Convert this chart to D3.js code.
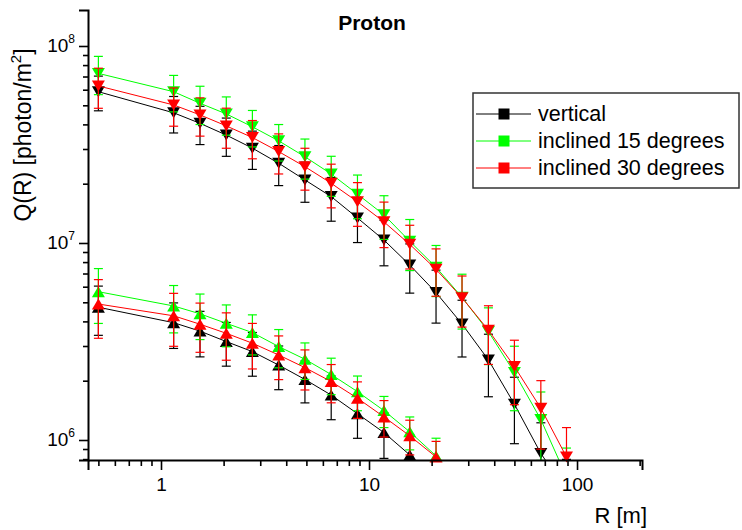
<!DOCTYPE html>
<html>
<head>
<meta charset="utf-8">
<script src="https://cdnjs.cloudflare.com/ajax/libs/d3/7.8.5/d3.min.js"></script>
<style>
  html, body { margin: 0; padding: 0; background: #fff; }
  svg { display: block; font-family: "Liberation Sans", Arial, sans-serif; }
</style>
</head>
<body>
<svg id="chart" width="742" height="530"></svg>
<script>
// ---------------- DATA ----------------
const R = [0.5, 1.15, 1.54, 2.06, 2.75, 3.68, 4.92, 6.58, 8.8, 11.8, 15.7, 21, 28, 37.5, 50, 67, 89];

// upper group (down triangles)
const verticalUpper = [5.86e7, 4.58e7, 4.05e7, 3.53e7, 3.03e7, 2.54e7, 2.09e7, 1.72e7, 1.34e7, 1.035e7, 7.73e6, 5.6e6, 3.88e6, 2.55e6, 1.52e6, 8.55e5, 5.5e5];
const incl15Upper   = [7.26e7, 5.86e7, 5.12e7, 4.52e7, 3.89e7, 3.30e7, 2.74e7, 2.24e7, 1.77e7, 1.39e7, 1.02e7, 7.53e6, 5.3e6, 3.55e6, 2.2e6, 1.27e6, 6.5e5];
const incl30Upper   = [6.27e7, 5.02e7, 4.47e7, 3.93e7, 3.43e7, 2.91e7, 2.44e7, 2.01e7, 1.62e7, 1.28e7, 9.84e6, 7.35e6, 5.27e6, 3.61e6, 2.36e6, 1.45e6, 8.2e5];
// relative errors (upper group)
const verticalUpperErr = [0.20, 0.21, 0.22, 0.22, 0.22, 0.23, 0.23, 0.25, 0.25, 0.26, 0.28, 0.30, 0.32, 0.35, 0.37, 0.43, 0.45];
const incl15UpperErr   = [0.22, 0.21, 0.22, 0.22, 0.21, 0.21, 0.23, 0.23, 0.25, 0.25, 0.29, 0.29, 0.31, 0.32, 0.36, 0.38, 0.40];
const incl30UpperErr   = [0.23, 0.22, 0.22, 0.23, 0.22, 0.23, 0.24, 0.25, 0.25, 0.26, 0.25, 0.27, 0.29, 0.33, 0.36, 0.38, 0.41];

// lower group (up triangles)
const verticalLower = [4.72e6, 3.94e6, 3.57e6, 3.16e6, 2.81e6, 2.4e6, 2.03e6, 1.69e6, 1.36e6, 1.09e6, 8.4e5];
const incl15Lower   = [5.66e6, 4.79e6, 4.37e6, 3.91e6, 3.51e6, 2.98e6, 2.57e6, 2.15e6, 1.76e6, 1.41e6, 1.10e6, 8.3e5];
const incl30Lower   = [4.9e6, 4.27e6, 3.87e6, 3.48e6, 3.1e6, 2.7e6, 2.33e6, 1.98e6, 1.63e6, 1.31e6, 1.05e6, 8.2e5];
const verticalLowerErr = [0.28, 0.26, 0.26, 0.25, 0.25, 0.25, 0.24, 0.25, 0.25, 0.26, 0.27];
const incl15LowerErr   = [0.31, 0.27, 0.26, 0.24, 0.23, 0.22, 0.21, 0.21, 0.20, 0.18, 0.19, 0.23];
const incl30LowerErr   = [0.33, 0.30, 0.28, 0.27, 0.26, 0.25, 0.23, 0.22, 0.21, 0.21, 0.20, 0.20];

const seriesNames = ["vertical", "inclined 15 degrees", "inclined 30 degrees"];
const seriesColors = ["#000000", "#00ff00", "#ff0000"];

const xMajorTicks = [1, 10, 100];
const xMinorTicks = [0.5, 0.6, 0.7, 0.8, 0.9, 2, 3, 4, 5, 6, 7, 8, 9, 20, 30, 40, 50, 60, 70, 80, 90, 200];
const yMajorTicks = [1e6, 1e7, 1e8];
const yMinorTicks = [8e5, 9e5, 2e6, 3e6, 4e6, 5e6, 6e6, 7e6, 8e6, 9e6, 2e7, 3e7, 4e7, 5e7, 6e7, 7e7, 8e7, 9e7];

const titleText = "Proton";
const xLabel = "R [m]";

// ---------------- LAYOUT ----------------
const svg = d3.select("#chart");
const pL = 88, pR = 642, pT = 10, pB = 460;

const x = d3.scaleLog().domain([0.4457, 205.3]).range([pL, pR]);
const y = d3.scaleLog().domain([7.915e5, 1.523e8]).range([pB, pT]);

svg.append("defs").append("clipPath").attr("id", "plotclip")
  .append("rect").attr("x", pL).attr("y", pT).attr("width", pR - pL).attr("height", pB - pT);

// ---------------- SERIES ----------------
const groups = [
  { vals: [verticalUpper, incl15Upper, incl30Upper], errs: [verticalUpperErr, incl15UpperErr, incl30UpperErr], dir: "down" },
  { vals: [verticalLower, incl15Lower, incl30Lower], errs: [verticalLowerErr, incl15LowerErr, incl30LowerErr], dir: "up" }
];

function triPath(dir) {
  const w = 6.5, h = 11;
  if (dir === "down") return `M${-w},${-h/2}L${w},${-h/2}L0,${h/2}Z`;
  return `M${-w},${h/2}L${w},${h/2}L0,${-h/2}Z`;
}

const plot = svg.append("g");
const line = d3.line().x(d => x(d.r)).y(d => y(d.v));

for (let s = 0; s < 3; s++) {
  for (const g of groups) {
    const pts = g.vals[s].map((v, i) => ({ r: R[i], v: v, e: v * g.errs[s][i] }));
    const col = seriesColors[s];
    const clipped = plot.append("g").attr("clip-path", "url(#plotclip)");
    clipped.append("path").datum(pts)
      .attr("d", line).attr("fill", "none").attr("stroke", col).attr("stroke-width", 1);
    const eb = clipped.selectAll(null).data(pts).enter().append("g");
    eb.append("line")
      .attr("x1", d => x(d.r)).attr("x2", d => x(d.r))
      .attr("y1", d => y(d.v + d.e)).attr("y2", d => y(Math.max(d.v - d.e, 1e3)))
      .attr("stroke", col).attr("stroke-width", 1.2);
    eb.append("line")
      .attr("x1", d => x(d.r) - 4.5).attr("x2", d => x(d.r) + 4.5)
      .attr("y1", d => y(d.v + d.e)).attr("y2", d => y(d.v + d.e))
      .attr("stroke", col).attr("stroke-width", 1.2);
    eb.append("line")
      .attr("x1", d => x(d.r) - 4.5).attr("x2", d => x(d.r) + 4.5)
      .attr("y1", d => y(d.v - d.e)).attr("y2", d => y(d.v - d.e))
      .attr("stroke", col).attr("stroke-width", 1.2);
    plot.selectAll(null).data(pts.filter(d => d.v >= y.domain()[0])).enter().append("path")
      .attr("d", triPath(g.dir))
      .attr("transform", d => `translate(${x(d.r)},${y(d.v)})`)
      .attr("fill", col);
  }
}

// ---------------- AXES ----------------
const axisG = svg.append("g");
const xMinor = axisG.append("g").attr("transform", `translate(0,${pB})`)
  .call(d3.axisBottom(x).tickValues(xMinorTicks).tickSize(6).tickFormat(""));
const xMajor = axisG.append("g").attr("transform", `translate(0,${pB})`)
  .call(d3.axisBottom(x).tickValues(xMajorTicks).tickSize(10).tickPadding(8).tickFormat(d3.format("d")));
const yMinor = axisG.append("g").attr("transform", `translate(${pL},0)`)
  .call(d3.axisLeft(y).tickValues(yMinorTicks).tickSize(5).tickFormat(""));
const yMajor = axisG.append("g").attr("transform", `translate(${pL},0)`)
  .call(d3.axisLeft(y).tickValues(yMajorTicks).tickSize(9).tickPadding(4).tickFormat(""));

[xMinor, yMinor].forEach(a => a.select(".domain").remove());
[xMajor, yMajor].forEach(a => a.select(".domain").attr("stroke-width", 2).attr("stroke", "#000"));
axisG.selectAll(".tick line").attr("stroke", "#000").attr("stroke-width", 1.6);
xMajor.selectAll(".tick text").attr("font-size", 19).attr("fill", "#000")
  .attr("font-family", "Liberation Sans, Arial, sans-serif");

yMajor.selectAll(".tick").each(function(d) {
  const t = d3.select(this).append("text")
    .attr("x", -13).attr("y", 6)
    .attr("text-anchor", "end")
    .attr("fill", "#000")
    .attr("font-family", "Liberation Sans, Arial, sans-serif")
    .attr("font-size", 19);
  t.append("tspan").text("10");
  t.append("tspan").attr("font-size", 12).attr("dy", -9).text(Math.round(Math.log10(d)));
});

// ---------------- TEXT ----------------
svg.append("text").attr("x", 372).attr("y", 30).attr("text-anchor", "middle")
  .attr("font-weight", "bold").attr("font-size", 21).text(titleText);

svg.append("text").attr("x", 647).attr("y", 523).attr("text-anchor", "end")
  .attr("font-size", 22).text(xLabel);

const yl = svg.append("text")
  .attr("transform", "translate(31,135) rotate(-90)")
  .attr("text-anchor", "middle").attr("font-size", 23);
yl.append("tspan").text("Q(R) [photon/m");
yl.append("tspan").attr("font-size", 15).attr("dy", -10).text("2");
yl.append("tspan").attr("dy", 10).text("]");

// ---------------- LEGEND ----------------
const lg = svg.append("g");
lg.append("rect").attr("x", 473).attr("y", 93).attr("width", 266).attr("height", 95)
  .attr("fill", "#fff").attr("stroke", "#333").attr("stroke-width", 1.5);
seriesNames.forEach((name, i) => {
  const cy = 114 + i * 27;
  lg.append("line").attr("x1", 476).attr("x2", 531).attr("y1", cy).attr("y2", cy)
    .attr("stroke", seriesColors[i]).attr("stroke-width", 1);
  lg.append("rect").attr("x", 504 - 5.5).attr("y", cy - 5.5).attr("width", 11).attr("height", 11)
    .attr("fill", seriesColors[i]);
  lg.append("text").attr("x", 538).attr("y", cy + 7).attr("font-size", 21.5).text(name);
});
</script>
</body>
</html>
